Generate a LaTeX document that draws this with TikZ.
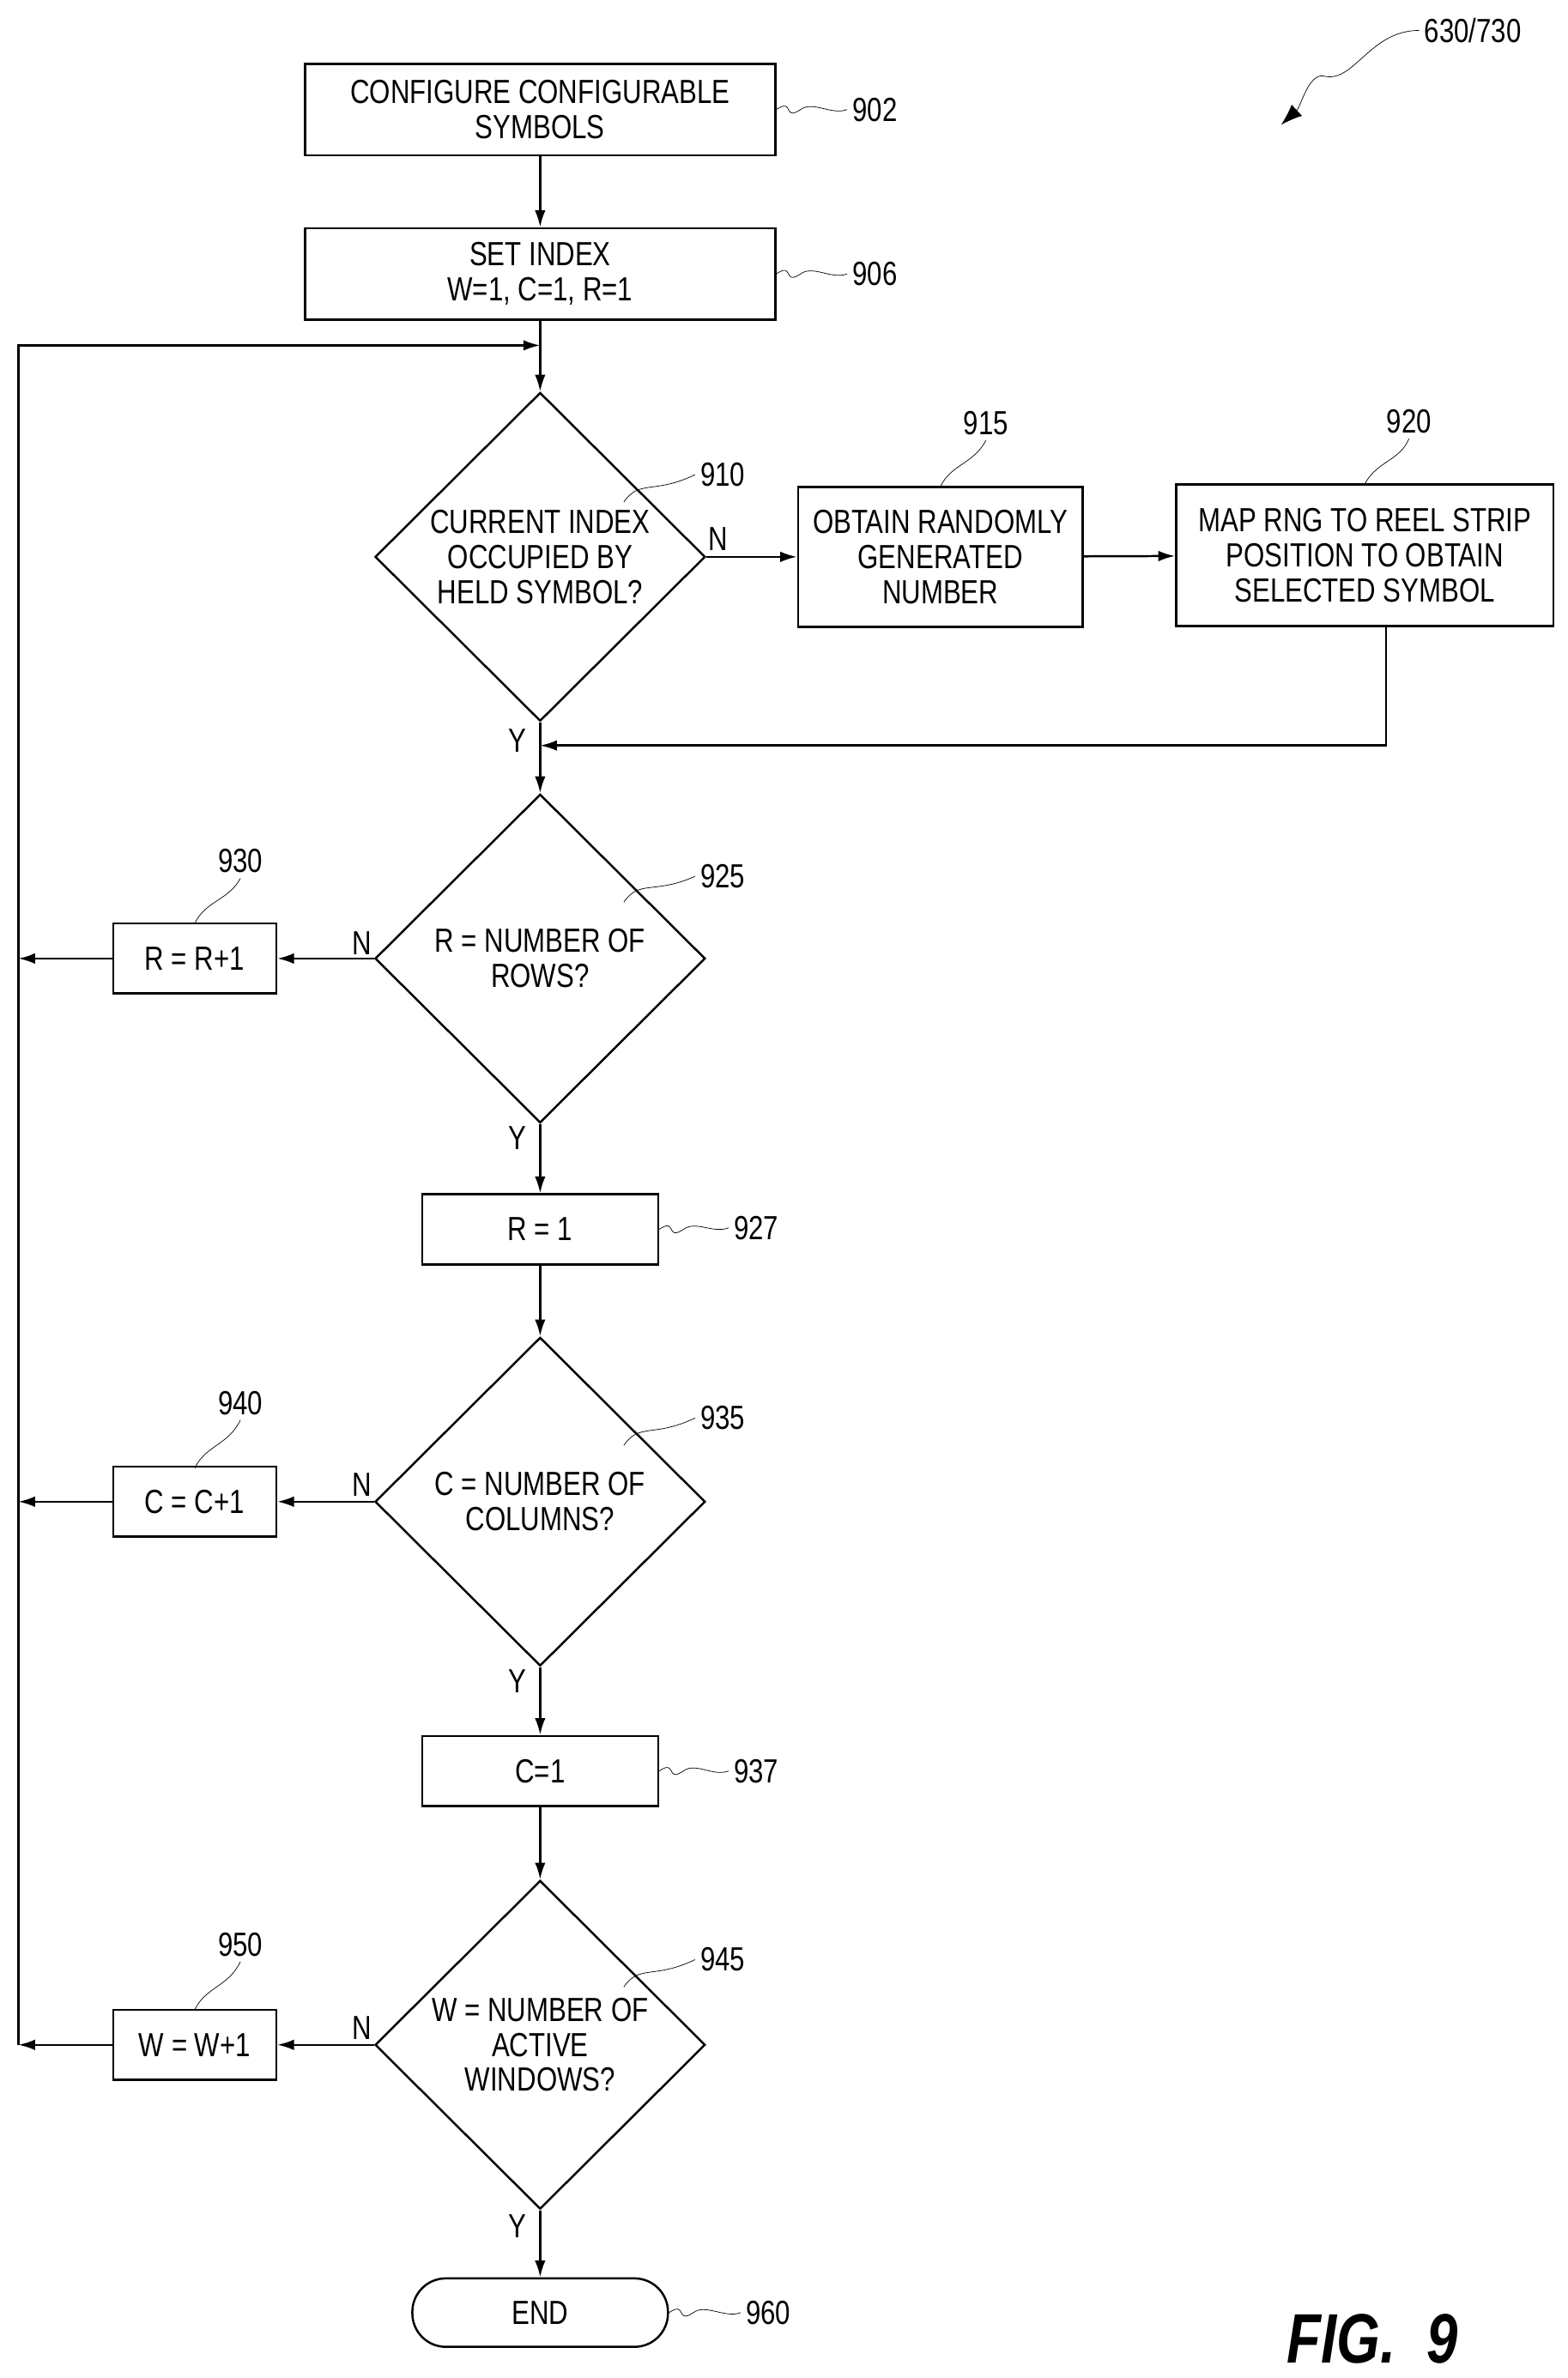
\documentclass[tikz,border=0pt]{standalone}
\usepackage{fontspec}
\setmainfont{Liberation Sans}[FakeStretch=0.8]
\usetikzlibrary{shapes.geometric,positioning,arrows.meta}

\tikzset{
  box/.style={draw, line width=1.4pt, rectangle, align=center, inner sep=2pt},
  dia/.style={draw, line width=1.4pt, diamond, align=center, inner sep=0pt, minimum width=217pt, minimum height=216pt},
  line/.style={line width=1.4pt, -{Latex[length=11pt,width=7pt]}},
  refn/.style={font=\fontsize{22}{24}\selectfont},
  yn/.style={font=\fontsize{22}{24}\selectfont}
}
% squiggle lead from a node to its reference number
\newcommand{\lead}[2]{\draw[thin] (#1) .. controls ++(12,-8) and ++(-12,8) .. ++(16,0) .. controls ++(8,-6) and ++(-10,4) .. (#2.west);}

\begin{document}
\begin{tikzpicture}[x=1pt, y=-1pt, font=\fontsize{22}{23}\selectfont, >=latex]
  \useasboundingbox (0,0) rectangle (1030,1563);

  % boxes and decisions
  \node[box, minimum width=309pt, minimum height=60pt] (b902) at (355,72) {CONFIGURE CONFIGURABLE\\SYMBOLS};
  \node[box, minimum width=309pt, minimum height=60pt] (b906) at (355,180) {SET INDEX\\W=1, C=1, R=1};
  \node[dia] (d910) at (355,366) {CURRENT INDEX\\OCCUPIED BY\\HELD SYMBOL?};
  \node[box, minimum width=187pt, minimum height=92pt] (b915) at (618,366) {OBTAIN RANDOMLY\\GENERATED\\NUMBER};
  \node[box, minimum width=248pt, minimum height=93pt] (b920) at (897,365) {MAP RNG TO REEL STRIP\\POSITION TO OBTAIN\\SELECTED SYMBOL};
  \node[dia] (d925) at (355,630) {R = NUMBER OF\\ROWS?};
  \node[box, minimum width=107pt, minimum height=46pt] (b930) at (128,630) {R = R+1};
  \node[box, minimum width=155pt, minimum height=46pt] (b927) at (355,808) {R = 1};
  \node[dia] (d935) at (355,987) {C = NUMBER OF\\COLUMNS?};
  \node[box, minimum width=107pt, minimum height=46pt] (b940) at (128,987) {C = C+1};
  \node[box, minimum width=155pt, minimum height=46pt] (b937) at (355,1164) {C=1};
  \node[dia] (d945) at (355,1344) {W = NUMBER OF\\ACTIVE\\WINDOWS?};
  \node[box, minimum width=107pt, minimum height=46pt] (b950) at (128,1344) {W = W+1};
  \node[draw, line width=1.4pt, rounded corners=22pt, minimum width=168pt, minimum height=45pt] (end) at (355,1520) {END};

  % helper points
  \coordinate (loop) at (355,227);
  \coordinate (merge) at (355,490);
  \coordinate (drop) at (911,411);
  \coordinate (lft) at (12,227);
  \coordinate (l930) at (12,630);
  \coordinate (l940) at (12,987);
  \coordinate (l950) at (12,1344);

  % connectors
  \draw[line] (b902) -- (b906);
  \draw[line] (b906) -- (d910);
  \draw[line] (d910) -- (b915);
  \draw[line] (b915) -- (b920);
  \draw[line] (drop) |- (merge);
  \draw[line] (d910) -- (d925);
  \draw[line] (d925) -- (b930);
  \draw[line] (d925) -- (b927);
  \draw[line] (b927) -- (d935);
  \draw[line] (d935) -- (b940);
  \draw[line] (d935) -- (b937);
  \draw[line] (b937) -- (d945);
  \draw[line] (d945) -- (b950);
  \draw[line] (d945) -- (end);
  \draw[line] (b930) -- (l930);
  \draw[line] (b940) -- (l940);
  \draw[line] (b950) -- (l950);
  \draw[line] (l950) -- (lft) -- (loop);

  % Y / N
  \node[yn] at (472,354) {N};
  \node[yn] at (340,487) {Y};
  \node[yn] at (238,620) {N};
  \node[yn] at (340,748) {Y};
  \node[yn] at (238,976) {N};
  \node[yn] at (340,1105) {Y};
  \node[yn] at (238,1333) {N};
  \node[yn] at (340,1463) {Y};

  % reference numbers
  \node[refn] (n902) at (575,72) {902};
  \node[refn] (n906) at (575,180) {906};
  \node[refn] (n910) at (475,312) {910};
  \node[refn] (n915) at (648,278) {915};
  \node[refn] (n920) at (926,277) {920};
  \node[refn] (n925) at (475,576) {925};
  \node[refn] (n930) at (158,566) {930};
  \node[refn] (n927) at (497,807) {927};
  \node[refn] (n935) at (475,932) {935};
  \node[refn] (n940) at (158,922) {940};
  \node[refn] (n937) at (497,1164) {937};
  \node[refn] (n945) at (475,1288) {945};
  \node[refn] (n950) at (158,1278) {950};
  \node[refn] (n960) at (505,1520) {960};
  \node[refn] (n630) at (968,20) {630/730};

  \lead{b902.east}{n902}
  \lead{b906.east}{n906}
  \lead{b927.east}{n927}
  \lead{b937.east}{n937}
  \lead{end.east}{n960}
  \draw[thin] (410,330) .. controls (420,315) and (430,325) .. (n910.west);
  \draw[thin] (410,593) .. controls (420,578) and (430,588) .. (n925.west);
  \draw[thin] (410,950) .. controls (420,935) and (430,945) .. (n935.west);
  \draw[thin] (410,1306) .. controls (420,1291) and (430,1301) .. (n945.west);
  \draw[thin] (618,320) .. controls (625,305) and (640,305) .. (n915.south);
  \draw[thin] (897,318) .. controls (905,303) and (920,303) .. (n920.south);
  \draw[thin] (128,607) .. controls (135,592) and (150,592) .. (n930.south);
  \draw[thin] (128,965) .. controls (135,950) and (150,950) .. (n940.south);
  \draw[thin] (128,1321) .. controls (135,1306) and (150,1306) .. (n950.south);
  \coordinate (tip630) at (842,82);
  \draw[thin, -{Latex[length=14pt,width=10pt]}] (n630.west) .. controls (900,20) and (890,55) .. (870,50) .. controls (860,48) and (855,70) .. (tip630);

  \node[font=\bfseries\itshape\fontsize{46}{48}\selectfont] (fig) at (902,1537) {FIG.~~9};
\end{tikzpicture}
\end{document}
